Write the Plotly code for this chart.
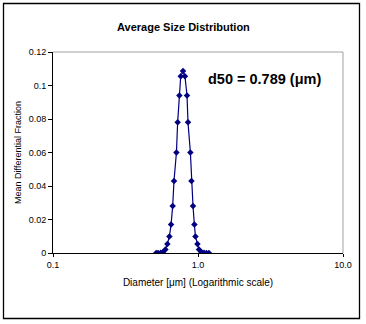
import plotly.graph_objects as go

diameter_um = [0.515, 0.530, 0.553, 0.574, 0.596, 0.615, 0.635, 0.652, 0.669, 0.683, 0.710, 0.724,
               0.744, 0.760, 0.788, 0.813, 0.840, 0.853, 0.886, 0.901, 0.924, 0.944, 0.960,
               0.991, 1.016, 1.055, 1.100, 1.143, 1.190]
fraction = [0.0, 0.0, 0.0001, 0.0006, 0.0021, 0.0054, 0.0099, 0.017, 0.028, 0.043, 0.060, 0.078,
            0.094, 0.1055, 0.1087, 0.1055, 0.094, 0.078, 0.060, 0.043, 0.028, 0.017, 0.0099,
            0.0054, 0.0021, 0.0006, 0.0001, 0.0, 0.0]
x_tick_vals = [0.1, 1.0, 10.0]
x_tick_text = ["0.1", "1.0", "10.0"]
y_tick_vals = [0, 0.02, 0.04, 0.06, 0.08, 0.1, 0.12]
y_tick_text = ["0", "0.02", "0.04", "0.06", "0.08", "0.1", "0.12"]
title_text = "Average Size Distribution"
annotation_text = "d50 = 0.789 (μm)"
x_title = "Diameter [μm] (Logarithmic scale)"
y_title = "Mean Differential Fraction"

FONT = "Liberation Sans, Arial, sans-serif"
NAVY = "#000080"

fig = go.Figure()
fig.add_trace(go.Scatter(
    x=diameter_um, y=fraction, mode="lines+markers",
    line=dict(color=NAVY, width=1.2),
    marker=dict(symbol="diamond", size=5, color=NAVY),
    showlegend=False, hoverinfo="skip",
))

L, R, T, B = 53, 366 - 343, 52, 324 - 253
pw, ph = 366 - L - R, 324 - T - B

def px(x):
    return (x - L) / pw

def py(y):
    return (324 - B - y) / ph

fig.update_layout(
    width=366, height=324,
    margin=dict(l=L, r=R, t=T, b=B),
    paper_bgcolor="white", plot_bgcolor="white",
    font=dict(family=FONT, size=9, color="black"),
    xaxis=dict(
        type="log", range=[-1, 1], tickvals=x_tick_vals, ticktext=x_tick_text,
        showgrid=False, zeroline=False, showline=True, linecolor="black", linewidth=1,
        ticks="outside", ticklen=3, tickcolor="black",
        tickfont=dict(size=9, family=FONT),
        title=dict(text=x_title, font=dict(size=10, family=FONT), standoff=10),
    ),
    yaxis=dict(
        range=[0, 0.12], tickvals=y_tick_vals, ticktext=y_tick_text,
        showgrid=False, zeroline=False, showline=True, linecolor="black", linewidth=1,
        ticks="outside", ticklen=4, tickcolor="black",
        tickfont=dict(size=9, family=FONT),
        title=dict(text=y_title, font=dict(size=9, family=FONT), standoff=5),
    ),
    shapes=[
        dict(type="line", xref="paper", yref="paper", x0=0, x1=1, y0=1, y1=1,
             line=dict(color="#a0a0a0", width=1)),
        dict(type="line", xref="paper", yref="paper", x0=1, x1=1, y0=0, y1=1,
             line=dict(color="#a0a0a0", width=1)),
        dict(type="rect", xref="paper", yref="paper",
             x0=px(3.5), x1=px(359.5), y0=py(318.5), y1=py(3.5),
             line=dict(color="black", width=1.3), layer="above"),
    ],
    annotations=[
        dict(text=title_text, xref="paper", yref="paper", x=px(183), y=py(27),
             xanchor="center", yanchor="middle", showarrow=False,
             font=dict(size=11, family=FONT, color="black", weight="bold")),
        dict(text="<b>" + annotation_text + "</b>", xref="paper", yref="paper", x=px(264.5), y=py(79),
             xanchor="center", yanchor="middle", showarrow=False,
             font=dict(size=14.5, family=FONT, color="black")),
    ],
)

fig.write_html("out.html")
